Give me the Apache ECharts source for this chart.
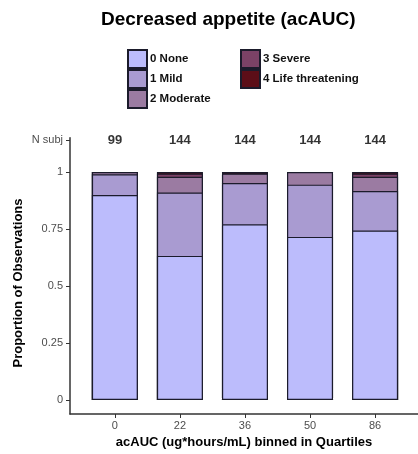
<!DOCTYPE html>
<html>
<head>
<meta charset="utf-8">
<script src="https://cdn.jsdelivr.net/npm/echarts@6/dist/echarts.min.js"></script>
<style>html,body{margin:0;padding:0;background:#fff}#c{width:418px;height:454px}</style>
</head>
<body>
<div id="c"></div>
<script>
var categories = ['0', '22', '36', '50', '86'];
var nSubj = [99, 144, 144, 144, 144];
var grades = ['0 None', '1 Mild', '2 Moderate', '3 Severe', '4 Life threatening'];
var gradeColors = ['#bcbcfc', '#a99bd1', '#9b7ba2', '#7b4266', '#5c0e18'];
var cntNone = [89, 91, 111, 103, 107];
var cntMild = [9, 40, 26, 33, 25];
var cntModerate = [1, 10, 6, 8, 9];
var cntSevere = [0, 2, 0, 0, 2];
var cntLife = [0, 1, 1, 0, 1];
var yTicks = [0, 0.25, 0.5, 0.75, 1];

var counts = [cntNone, cntMild, cntModerate, cntSevere, cntLife];
var nRowY = 1.14;
var FONT = 'Liberation Sans, Arial, sans-serif';

// cumulative proportions (stack top of each grade), drawn from the top grade down
var cum = counts.map(function (arr, g) {
  return arr.map(function (c, i) {
    var s = 0;
    for (var k = 0; k <= g; k++) s += counts[k][i];
    return s / nSubj[i];
  });
});

var series = [];
for (var g = counts.length - 1; g >= 0; g--) {
  series.push({
    name: grades[g],
    type: 'bar',
    barWidth: 46,
    barGap: '-100%',
    itemStyle: { color: gradeColors[g], borderColor: '#1b1b2b', borderWidth: 1.2 },
    emphasis: { disabled: true },
    data: cum[g].map(function (v, i) { return [i, v]; })
  });
}
series.push({
  type: 'scatter',
  symbolSize: 0,
  silent: true,
  data: nSubj.map(function (n, i) { return [i, nRowY]; }),
  label: {
    show: true, position: 'inside',
    formatter: function (p) { return String(nSubj[p.dataIndex]); },
    fontFamily: FONT, fontWeight: 'bold', fontSize: 13, color: '#000'
  }
});

var legendCommon = {
  orient: 'vertical', top: 44,
  itemWidth: 19, itemHeight: 18, itemGap: 0, icon: 'rect',
  textStyle: { fontFamily: FONT, fontWeight: 'bold', fontSize: 11.5, color: '#111', padding: [0, 0, 0, -2] },
  selectedMode: false
};

var chart = echarts.init(document.getElementById('c'), null, { renderer: 'canvas' });
chart.setOption({
  animation: false,
  backgroundColor: '#fff',
  title: {
    text: 'Decreased appetite (acAUC)',
    left: 96, top: 5,
    textStyle: { fontFamily: FONT, fontWeight: 'bold', fontSize: 19, color: '#000' }
  },
  legend: [
    Object.assign({}, legendCommon, { data: grades.slice(0, 3), left: 122 }),
    Object.assign({}, legendCommon, { data: grades.slice(3), left: 235 })
  ],
  grid: { left: 70, right: 0, top: 137.8, bottom: 40 },
  xAxis: {
    type: 'value', min: -0.69, max: 4.66,
    splitLine: { show: false },
    axisLine: { show: true, onZero: false, lineStyle: { color: '#333', width: 1.5 } },
    axisTick: { show: true, customValues: [0, 1, 2, 3, 4], length: 4, lineStyle: { color: '#333' } },
    axisLabel: {
      customValues: [0, 1, 2, 3, 4], margin: 6,
      formatter: function (v) { return categories[Math.round(v)]; },
      fontFamily: FONT, fontSize: 11, color: '#4d4d4d'
    },
    name: 'acAUC (ug*hours/mL) binned in Quartiles',
    nameLocation: 'middle', nameGap: 19,
    nameTextStyle: { fontFamily: FONT, fontWeight: 'bold', fontSize: 13, color: '#000' }
  },
  yAxis: {
    type: 'value', min: -0.0614, max: 1.15,
    splitLine: { show: false },
    axisLine: { show: true, onZero: false, lineStyle: { color: '#333', width: 1.5 } },
    axisTick: { show: true, customValues: yTicks.concat([nRowY]), length: 4, lineStyle: { color: '#333' } },
    axisLabel: {
      customValues: yTicks.concat([nRowY]), margin: 7,
      formatter: function (v) { return v > 1.05 ? 'N subj' : String(v); },
      fontFamily: FONT, fontSize: 11, color: '#4d4d4d'
    }
  },
  graphic: [{
    type: 'text', x: 18, y: 283, rotation: Math.PI / 2,
    style: {
      text: 'Proportion of Observations', fill: '#000',
      font: 'bold 13px ' + FONT, textAlign: 'center', textVerticalAlign: 'middle'
    }
  }],
  series: series
});
</script>
</body>
</html>
